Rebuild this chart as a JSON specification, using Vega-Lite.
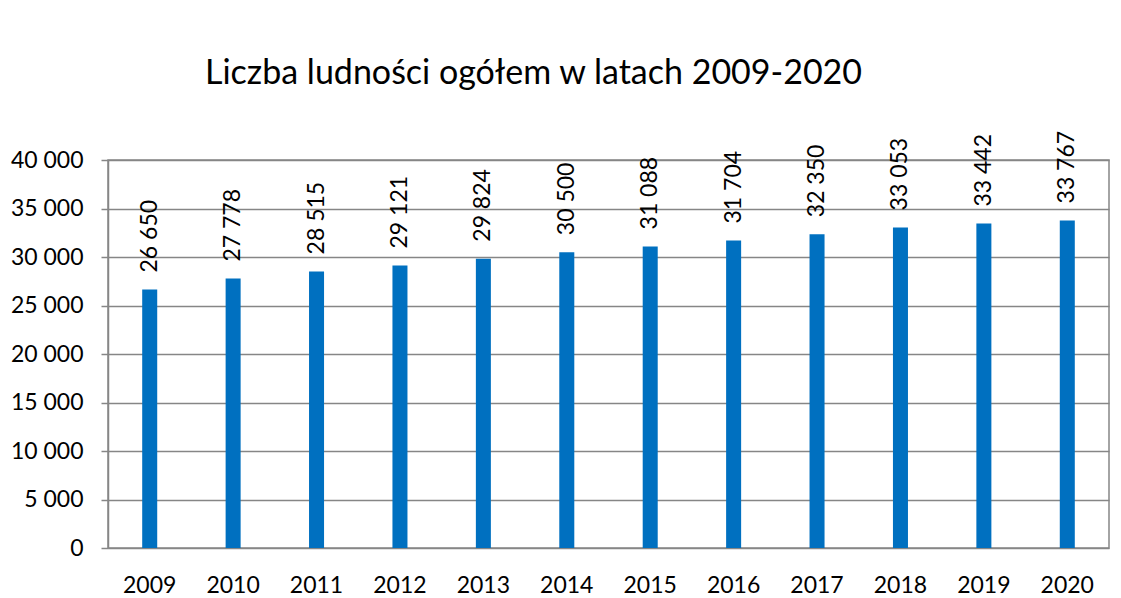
{
  "$schema": "https://vega.github.io/schema/vega-lite/v6.json",
  "width": 1001,
  "height": 388,
  "autosize": {"type": "none"},
  "padding": {"left": 108, "top": 160, "right": 12, "bottom": 50},
  "background": "white",
  "config": {
    "locale": {"number": {"decimal": ",", "thousands": " ", "grouping": [3], "currency": ["", " zł"]}},
    "font": "Lato",
    "view": {"stroke": "#868686", "strokeWidth": 1.5}
  },
  "title": {
    "text": "Liczba ludności ogółem w latach 2009-2020",
    "anchor": "start",
    "frame": "group",
    "dx": 97,
    "offset": 40,
    "fontSize": 34,
    "fontWeight": "normal",
    "color": "#000000",
    "font": "Lato"
  },
  "data": {
    "values": [
      {"rok": "2009", "ludnosc": 26650},
      {"rok": "2010", "ludnosc": 27778},
      {"rok": "2011", "ludnosc": 28515},
      {"rok": "2012", "ludnosc": 29121},
      {"rok": "2013", "ludnosc": 29824},
      {"rok": "2014", "ludnosc": 30500},
      {"rok": "2015", "ludnosc": 31088},
      {"rok": "2016", "ludnosc": 31704},
      {"rok": "2017", "ludnosc": 32350},
      {"rok": "2018", "ludnosc": 33053},
      {"rok": "2019", "ludnosc": 33442},
      {"rok": "2020", "ludnosc": 33767}
    ]
  },
  "encoding": {
    "x": {
      "field": "rok",
      "type": "nominal",
      "sort": null,
      "scale": {"paddingInner": 0.82, "paddingOuter": 0.41},
      "axis": {
        "title": null,
        "labelAngle": 0,
        "labelFontSize": 23,
        "labelColor": "#000000",
        "labelPadding": 26,
        "ticks": false,
        "domain": false
      }
    },
    "y": {
      "field": "ludnosc",
      "type": "quantitative",
      "scale": {"domain": [0, 40000], "nice": false},
      "axis": {
        "title": null,
        "values": [0, 5000, 10000, 15000, 20000, 25000, 30000, 35000, 40000],
        "format": ",d",
        "labelFontSize": 23,
        "labelColor": "#000000",
        "labelPadding": 18,
        "tickSize": 7,
        "tickColor": "#868686",
        "tickWidth": 1.5,
        "gridColor": "#868686",
        "gridWidth": 1.5,
        "domainColor": "#868686",
        "domainWidth": 1.5
      }
    }
  },
  "layer": [
    {
      "mark": {"type": "bar", "color": "#0070C0"}
    },
    {
      "mark": {"type": "text", "angle": 270, "align": "left", "baseline": "middle", "dx": 17, "fontSize": 23, "color": "#000000"},
      "encoding": {
        "text": {"field": "ludnosc", "type": "quantitative", "format": ",d"}
      }
    }
  ]
}
